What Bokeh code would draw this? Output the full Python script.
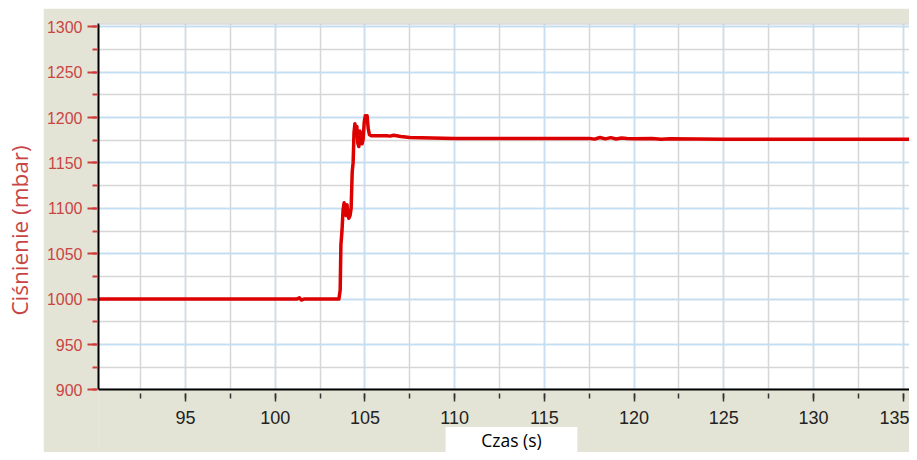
import math
from bokeh.plotting import figure
from bokeh.layouts import row, column
from bokeh.models import Range1d, SingleIntervalTicker, Spacer, Span, Label
from bokeh.embed import file_html
from bokeh.resources import INLINE
from bokeh.core.properties import value

# ---- data ----
time_s = [90.15, 101.2, 101.35, 101.45, 101.6, 103.55, 103.62, 103.66, 103.72, 103.78,
          103.84, 103.9, 103.95, 104.0, 104.05, 104.1, 104.17, 104.23, 104.29, 104.34,
          104.39, 104.44, 104.5, 104.55, 104.6, 104.66, 104.72, 104.78, 104.84, 104.9,
          104.96, 105.02, 105.07, 105.12, 105.18, 105.25, 105.35, 106.2, 106.4, 106.6,
          107.0, 107.5, 110.0, 114.0, 117.5, 117.8, 118.1, 118.4, 118.7, 119.0,
          119.3, 119.6, 120.0, 121.0, 121.5, 122.0, 125.0, 130.0, 135.35]
pressure_mbar = [1000, 1000, 1001.5, 999, 1000, 1000, 1010, 1060, 1075, 1098,
                 1106, 1100, 1092, 1104, 1093, 1089, 1092, 1100, 1140, 1150,
                 1183, 1193, 1180, 1190, 1172, 1168, 1185, 1180, 1171, 1176,
                 1195, 1202, 1197, 1202, 1188, 1181, 1180, 1180, 1179.5, 1180.5,
                 1179, 1178, 1177, 1177, 1177, 1176.2, 1178, 1176.5, 1177.8, 1176.3,
                 1177.5, 1176.8, 1176.5, 1176.8, 1176, 1176.6, 1176, 1176, 1176]

x_start, x_end = 90.15, 135.35
y_axis_min, y_axis_max = 900, 1300
x_tick_step = 5
y_tick_step = 50
x_label = "Czas (s)"
y_label = "Ciśnienie (mbar)"

BG = "#e4e4d6"
RED_TXT = "#c94444"

# ---- page geometry (pixels) ----
LEFT_W = 43
MAIN_W = 866
TOP_GAP = 8
TOTAL_H = 452
MAIN_H = TOTAL_H - TOP_GAP
FRAME_L, FRAME_R = LEFT_W + 53, LEFT_W + MAIN_W     # 96 .. 909
FRAME_T, FRAME_B = TOP_GAP + 15, TOTAL_H             # 23 .. 452
PY_YMAX, PY_YMIN = 26.2, 389.4                       # pixel rows of 1300 and 900

x_scale = (FRAME_R - FRAME_L) / (x_end - x_start)
y_scale = (PY_YMIN - PY_YMAX) / (y_axis_max - y_axis_min)
y_view_end = y_axis_max + (PY_YMAX - FRAME_T) / y_scale
y_view_start = y_axis_min - (FRAME_B - PY_YMIN) / y_scale


def x_at(px):
    return x_start + (px - FRAME_L) / x_scale


def y_at(py):
    return y_axis_min - (py - PY_YMIN) / y_scale


# ---- left white strip with the y label ----
left = figure(width=LEFT_W, height=TOTAL_H, x_range=Range1d(0, LEFT_W), y_range=Range1d(0, TOTAL_H),
              toolbar_location=None, output_backend="svg", min_border=0)
left.axis.visible = False
left.grid.visible = False
left.outline_line_color = None
left.background_fill_color = "white"
left.border_fill_color = "white"
left.text(x=[18.5], y=[TOTAL_H - 230], text=[y_label], angle=math.pi / 2,
          text_align="center", text_baseline="middle",
          text_font=value("Open Sans"), text_font_size="22.5px", text_color=RED_TXT)

# ---- main chart ----
p = figure(width=MAIN_W, height=MAIN_H,
           x_range=Range1d(x_start, x_end), y_range=Range1d(y_view_start, y_view_end),
           toolbar_location=None, output_backend="svg",
           min_border_left=53, min_border_right=0, min_border_top=15, min_border_bottom=0)
p.background_fill_color = BG
p.border_fill_color = BG
p.outline_line_color = None

p.xaxis.ticker = SingleIntervalTicker(interval=x_tick_step, num_minor_ticks=2)
p.yaxis.ticker = SingleIntervalTicker(interval=y_tick_step, num_minor_ticks=2)
p.xaxis.fixed_location = y_axis_min
p.yaxis.bounds = (y_axis_min, y_view_end)

for ax in (p.xaxis[0], p.yaxis[0]):
    ax.axis_line_color = "black"
    ax.axis_line_width = 2
    ax.major_label_text_font = "Liberation Sans"

p.xaxis.major_label_text_font_size = "18px"
p.xaxis.major_label_text_color = "#222222"
p.xaxis.major_tick_line_color = "#333333"
p.xaxis.minor_tick_line_color = "#333333"
p.xaxis.major_tick_line_width = 1.5
p.xaxis.minor_tick_line_width = 1.5
p.xaxis.major_tick_in = -4
p.xaxis.major_tick_out = 12
p.xaxis.minor_tick_in = -4
p.xaxis.minor_tick_out = 9
p.xaxis.major_label_standoff = 9

p.yaxis.major_label_text_font_size = "16px"
p.yaxis.major_label_text_color = RED_TXT
p.yaxis.major_tick_line_color = "#d03a3a"
p.yaxis.minor_tick_line_color = "#d03a3a"
p.yaxis.major_tick_line_width = 2
p.yaxis.minor_tick_line_width = 2
p.yaxis.major_tick_in = -2
p.yaxis.major_tick_out = 11
p.yaxis.minor_tick_in = -1
p.yaxis.minor_tick_out = 6
p.yaxis.major_label_standoff = 5

p.xgrid.grid_line_color = "#c9def0"
p.ygrid.grid_line_color = "#bfdff6"
p.xgrid.grid_line_width = 1.5
p.ygrid.grid_line_width = 1.5
p.xgrid.minor_grid_line_color = "#d6d6d6"
p.ygrid.minor_grid_line_color = "#d6d6d6"
p.xgrid.minor_grid_line_width = 1.5
p.ygrid.minor_grid_line_width = 1.5

# white plotting area (under the grid) above the x axis
p.quad(left=[x_start - 1], right=[x_end + 1], bottom=[y_axis_min], top=[y_view_end + 10],
       fill_color="white", line_color=None, level="image")

# light frame edge at the top
p.add_layout(Span(location=y_view_end, dimension="width", line_color="#c8c8c8", line_width=2))

# data
p.line(time_s, pressure_mbar, line_color="#dd0000", line_width=3.5, line_join="round")

# grey band below the x axis, with the white box holding the x label
p.quad(left=[x_start - 1], right=[x_end + 1], bottom=[y_view_start - 10], top=[y_axis_min],
       fill_color=BG, line_color=None)
p.quad(left=[x_at(444)], right=[x_at(576)], bottom=[y_view_start - 10], top=[y_at(426.5)],
       fill_color="white", line_color=None)
p.add_layout(Label(x=x_at(510), y=y_at(439.5), x_units="data", y_units="data", text=x_label,
                   text_align="center", text_baseline="alphabetic",
                   text_font="Open Sans", text_font_size="17.5px", text_color="black"))

layout = row(left, column(Spacer(width=MAIN_W, height=TOP_GAP), p))
open("out.html", "w").write(file_html(layout, INLINE))
